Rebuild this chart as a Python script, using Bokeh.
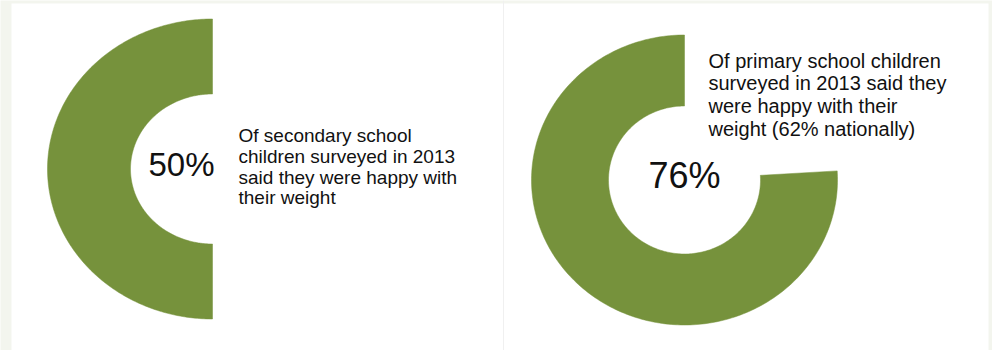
import numpy as np
from bokeh.plotting import figure
from bokeh.models import Range1d, BoxAnnotation, Span, ColumnDataSource
from bokeh.core.properties import value
from bokeh.embed import file_html
from bokeh.resources import INLINE

# ---------------- data ----------------
groups = ["Secondary school", "Primary school"]
happy_pct = [50, 76]
pct_labels = ["50%", "76%"]
desc_secondary = ["Of secondary school", "children surveyed in 2013",
                  "said they were happy with", "their weight"]
desc_primary = ["Of primary school children", "surveyed in 2013 said they",
                "were happy with their", "weight (62% nationally)"]
descriptions = [desc_secondary, desc_primary]

# ---------------- layout / style ----------------
GREEN = "#76923C"
TEXT = "#111111"
FONT = "Liberation Sans"
# per panel: centre x, centre y, outer rx, outer ry, inner rx, inner ry
rings = [
    dict(cx=212, cy=168.5, rx=165, ry=150, rxi=82, ryi=75),
    dict(cx=684, cy=179.5, rx=153, ry=145, rxi=76, ryi=74),
]
pct_pos = [dict(x=148, y=163.5, size="33px"), dict(x=648, y=175, size="36px")]
desc_pos = [dict(x=238, y=135, dy=20.8, size="19px"),
            dict(x=708, y=60, dy=22.7, size="20px")]


def ring_patch(g, pct, n=240):
    a0 = np.pi / 2
    a1 = a0 + 2 * np.pi * pct / 100.0
    t = np.linspace(a0, a1, n)
    xo = g["cx"] + g["rx"] * np.cos(t)
    yo = g["cy"] - g["ry"] * np.sin(t)
    tr = t[::-1]
    xi = g["cx"] + g["rxi"] * np.cos(tr)
    yi = g["cy"] - g["ryi"] * np.sin(tr)
    return list(np.concatenate([xo, xi])), list(np.concatenate([yo, yi]))


p = figure(width=992, height=350, x_range=Range1d(0, 992), y_range=Range1d(350, 0),
           output_backend="svg", toolbar_location=None, min_border=0)
p.axis.visible = False
p.grid.visible = False
p.outline_line_color = None
p.background_fill_color = "#f3f5ee"
p.border_fill_color = "#f3f5ee"

p.add_layout(BoxAnnotation(left=11, right=988, top=3, bottom=350,
                           fill_color="white", fill_alpha=1, line_color=None, level="underlay"))
p.add_layout(Span(location=503, dimension="height", line_color="#f0f0f0", line_width=1))

xs, ys = [], []
for g, pct in zip(rings, happy_pct):
    x, y = ring_patch(g, pct)
    xs.append(x)
    ys.append(y)
src = ColumnDataSource(dict(xs=xs, ys=ys, group=groups, pct=happy_pct))
p.patches("xs", "ys", source=src, fill_color=GREEN, line_color=GREEN, line_width=0.5)

for lab, pos in zip(pct_labels, pct_pos):
    p.text(x=[pos["x"]], y=[pos["y"]], text=[lab], text_font=value(FONT),
           text_font_size=pos["size"], text_color=TEXT,
           text_align="left", text_baseline="middle")

for lines, pos in zip(descriptions, desc_pos):
    p.text(x=[pos["x"]] * len(lines),
           y=[pos["y"] + i * pos["dy"] for i in range(len(lines))],
           text=lines, text_font=value(FONT), text_font_size=pos["size"],
           text_color=TEXT, text_align="left", text_baseline="middle")

open("out.html", "w").write(file_html(p, INLINE))
